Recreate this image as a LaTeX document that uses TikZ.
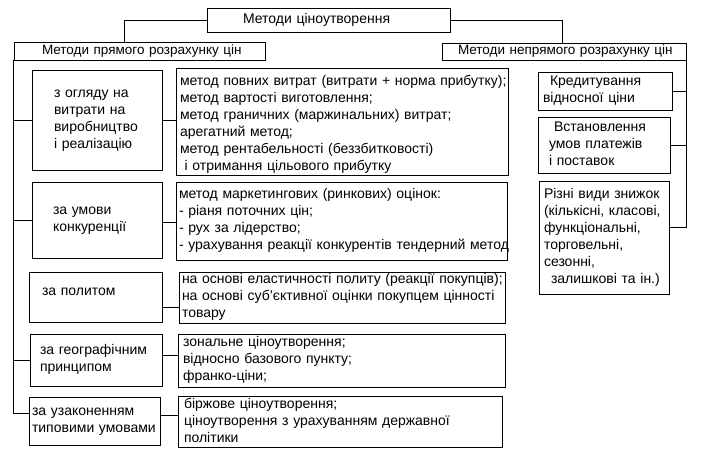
\documentclass[tikz,border=0pt]{standalone}
\usepackage{fontspec}
\setmainfont{Liberation Sans}
\usetikzlibrary{calc}
\newcommand\lns[1]{\begin{tabular}{@{}l@{}}#1\end{tabular}}
\begin{document}
\begin{tikzpicture}[x=1pt,y=-1pt,
  bx/.style={draw, line width=0.9pt, inner sep=0pt, align=left, font=\fontsize{14}{17}\selectfont},
  hd/.style={bx, font=\fontsize{13.5}{17}\selectfont},
  ln/.style={draw, line width=0.9pt}]
\useasboundingbox[fill=white] (0,0) rectangle (703,458);
% headers
\node[bx, minimum height=24, text width=171, inner xsep=36] (top) at (328.5,20) {\lns{Методи ціноутворення}};
\node[hd, minimum height=18, text width=195, inner xsep=28] (lh) at (139.5,51) {\lns{Методи прямого розрахунку цін}};
\node[hd, minimum height=17, text width=212, inner xsep=16] (rh) at (564,51.5) {\lns{Методи непрямого розрахунку цін}};
% left categories
\node[bx, minimum height=100, text width=86, inner xsep=22] (c1) at (97,120) {\lns{з огляду на\\витрати на\\виробництво\\і реалізацію}};
\node[bx, minimum height=76, text width=88, inner xsep=21] (c2) at (97,220) {\lns{за умови\\конкуренції}};
\node[bx, minimum height=50, text width=107, inner xsep=13] (c3) at (95.5,297) {\lns{за политом\\[-7pt] \mbox{}}};
\node[bx, minimum height=52, text width=112, inner xsep=10] (c4) at (96,360) {\lns{за географічним\\принципом}};
\node[bx, minimum height=48, text width=125, inner xsep=3] (c5) at (94.5,421) {\lns{за узаконенням\\типовими умовами}};
% descriptions
\node[bx, minimum height=106, text width=324, inner xsep=4] (d1) at (342,122) {\lns{\\[-12pt]метод повних витрат (витрати + норма прибутку);\\метод вартості виготовлення;\\метод граничних (маржинальних) витрат;\\арегатний метод;\\метод рентабельності (беззбитковості)\\\ і отримання цільового прибутку}};
\node[bx, minimum height=78, text width=325, inner xsep=3] (d2) at (341.5,221) {\lns{метод маркетингових (ринкових) оцінок:\\- ріаня поточних цін;\\- рух за лідерство;\\- урахування реакції конкурентів тендерний метод}};
\node[bx, minimum height=51, text width=320, inner xsep=3] (d3) at (342,297.5) {\lns{на основі еластичності политу (реакції покупців);\\на основі суб'єктивної оцінки покупцем цінності\\товару}};
\node[bx, minimum height=53, text width=317, inner xsep=5] (d4) at (341.5,360.5) {\lns{зональне ціноутворення;\\відносно базового пункту;\\франко-ціни;}};
\node[bx, minimum height=50, text width=312, inner xsep=6] (d5) at (340,422) {\lns{біржове ціноутворення;\\ціноутворення з урахуванням державної\\політики}};
% right boxes
\node[bx, minimum height=38, text width=124, inner xsep=5] (r1) at (605,91) {\lns{\hspace{7pt}Кредитування\\відносної ціни}};
\node[bx, minimum height=56, text width=110, inner xsep=11] (r2) at (604,145) {\lns{\hspace{5pt}Встановлення\\умов платежів\\і поставок}};
\node[bx, minimum height=113, text width=120, inner xsep=5] (r3) at (604,237.5) {\lns{Різні види знижок\\(кількісні, класові,\\функціональні,\\торговельні,\\сезонні,\\\hspace{7pt}залишкові та ін.)}};
% connectors
\draw[ln] (top.west) -| ([xshift=-15.5pt]lh.north);
\draw[ln] (top.east) -| ([xshift=-2pt]rh.north);
\draw[ln] (lh.south west) |- ([yshift=8pt]c5.west);
\draw[ln] (c1.west -| lh.south west) -- (c1.west);
\draw[ln] (c2.west -| lh.south west) -- (c2.west);
\draw[ln] (c4.west -| lh.south west) -- (c4.west);
\coordinate (k2) at ($(c2.east)+(0,2)$);
\coordinate (k3) at ($(c3.east)+(0,10)$);
\coordinate (k4) at ($(c4.east)+(0,-5)$);
\coordinate (k5) at ($(c5.east)+(0,-6)$);
\draw[ln] (c1.east) -- (c1.east -| d1.west);
\draw[ln] (k2) -- (k2 -| d2.west);
\draw[ln] (k3) -- (k3 -| d3.west);
\draw[ln] (k4) -- (k4 -| d4.west);
\draw[ln] (k5) -- (k5 -| d5.west);
\draw[ln] (rh.south east) |- ([yshift=10.5pt]r3.east);
\draw[ln] (r1.east) -- (r1.east -| rh.south east);
\draw[ln] (r2.east) -- (r2.east -| rh.south east);
\end{tikzpicture}
\end{document}
